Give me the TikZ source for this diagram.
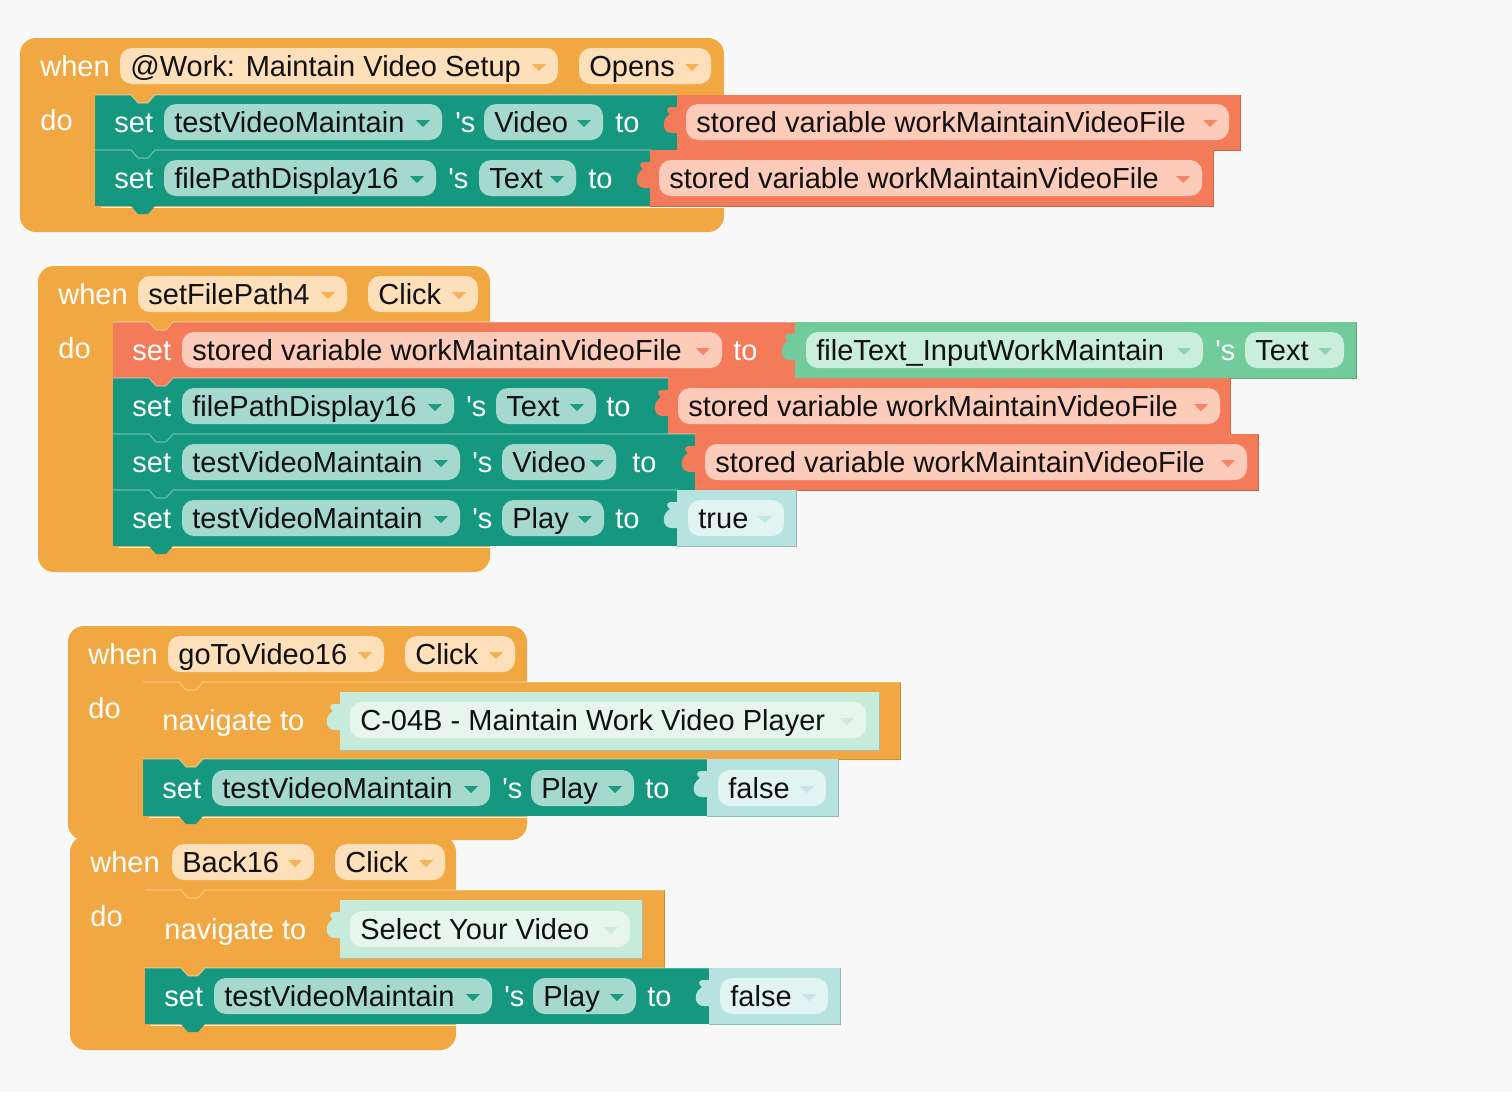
\documentclass[tikz,border=0pt]{standalone}
\usepackage{fontspec}
\setmainfont{Liberation Sans}
\usepackage{tikz}
\definecolor{fondo}{HTML}{F8F8F8}
\definecolor{naranja}{HTML}{F1A843}
\definecolor{naranjac}{HTML}{FDDFB9}
\definecolor{naranjaf}{HTML}{F5B257}
\definecolor{verdeazul}{HTML}{15987F}
\definecolor{verdeazulc}{HTML}{A6D9CD}
\definecolor{verdeazulf}{HTML}{1C9B82}
\definecolor{salmon}{HTML}{F37B5A}
\definecolor{salmonc}{HTML}{FCCBBA}
\definecolor{salmonf}{HTML}{F58565}
\definecolor{menta}{HTML}{71CB9B}
\definecolor{mentac}{HTML}{C9EED9}
\definecolor{mentaf}{HTML}{8DD5AE}
\definecolor{agua}{HTML}{B6E2DF}
\definecolor{aguac}{HTML}{E1F4F2}
\definecolor{aguaf}{HTML}{C2E7E4}
\definecolor{hoja}{HTML}{C6EBDA}
\definecolor{hojac}{HTML}{E6F6EE}
\definecolor{hojaf}{HTML}{CDEADC}
\definecolor{tinta}{HTML}{111111}
% evento: izq, arriba, der, abajo, izq pila, fondo pila
\newcommand{\evento}[6]{%
  \fill[naranja,rounded corners=8] (#1,#2) rectangle (#3,#4);
  \draw[white,line width=.8pt] ({#5+6},{#6+1.5}) -- (#3,{#6+1.5});}
% fila: izq, arriba, der, alto, color, color de arriba
\newcommand{\fila}[6]{%
  \fill[#5] (#1,#2) rectangle (#3,{#2+#4});
  \fill[#6] ({#1+36},#2) -- ({#1+43},{#2+8}) -- ({#1+53},{#2+8}) -- ({#1+60},#2) -- cycle;
  \draw[white,opacity=.35,line width=.6pt] (#1,#2) -- ({#1+36},#2) -- ({#1+43},{#2+8})
    -- ({#1+53},{#2+8}) -- ({#1+60},#2) -- (#3,#2);}
\newcommand{\cola}[3]{%
  \fill[#3] ({#1+36},#2) -- ({#1+43},{#2+8}) -- ({#1+53},{#2+8}) -- ({#1+60},#2) -- cycle;}
% valor: izq, arriba, der, alto, color
\newcommand{\valor}[5]{%
  \fill[#5] (#1,#2) rectangle (#3,{#2+#4});
  \fill[#5] ({#1+1},{#2+12}) -- ({#1-6},{#2+12})
    .. controls ({#1-11},{#2+12}) and ({#1-11},{#2+17}) .. ({#1-7},{#2+19})
    .. controls ({#1-12},{#2+22}) and ({#1-14},{#2+27}) .. ({#1-13},{#2+32})
    .. controls ({#1-12},{#2+36}) and ({#1-9},{#2+38}) .. ({#1-5},{#2+38})
    -- ({#1+1},{#2+38}) -- cycle;
  \draw[#5!82!black,line width=.5pt] (#1,{#2+#4}) -- (#3,{#2+#4}) -- (#3,#2);}
% campo: nombre, izq, der, centro y, color, flecha, texto
\newcommand{\campo}[7]{%
  \fill[#5,rounded corners=6] (#2,{#4-18}) rectangle (#3,{#4+18});
  \node[campotxt] (#1) at ({#2+10},{#4+10}) {#7};
  \fill[#6] ({#3-26},{#4-2}) -- ({#3-12},{#4-2}) -- ({#3-19},{#4+5}) -- cycle;}
\newcommand{\etiq}[4]{\node[etiqueta] (#1) at (#2,{#3+10}) {#4};}
\newcommand{\ese}{\textquotesingle s}

\begin{document}
\begin{tikzpicture}[x=0.5bp,y=-0.5bp,font=\fontsize{14.5bp}{17bp}\selectfont,
    etiqueta/.style={anchor=base west,inner sep=0pt,text=white},
    campotxt/.style={anchor=base west,inner sep=0pt,text=tinta}]
  \fill[fondo] (0,0) rectangle (1512,1092);
  \useasboundingbox (0,0) rectangle (1512,1092);
  % when @Work: Maintain Video Setup
  \evento{20}{38}{724}{232}{95}{206}
  \etiq{cu1}{40}{66}{when} \etiq{ha1}{40}{120}{do}
  \campo{ev1}{120}{558}{66}{naranjac}{naranjaf}{@Work: Maintain Video Setup}
  \campo{op1}{579}{711}{66}{naranjac}{naranjaf}{Opens}
  \fila{95}{95}{678}{55}{verdeazul}{naranja}
  \etiq{se11}{114}{122}{set} \etiq{de11}{455}{122}{\ese} \etiq{a11}{615}{122}{to}
  \campo{co11}{164}{442}{122}{verdeazulc}{verdeazulf}{testVideoMaintain}
  \campo{pr11}{484}{603}{122}{verdeazulc}{verdeazulf}{Video}
  \valor{677}{95}{1240}{55}{salmon}
  \campo{va11}{686}{1229}{122}{salmonc}{salmonf}{stored variable workMaintainVideoFile}
  \fila{95}{150}{651}{56}{verdeazul}{verdeazul}
  \etiq{se12}{114}{178}{set} \etiq{de12}{448}{178}{\ese} \etiq{a12}{588}{178}{to}
  \campo{co12}{164}{436}{178}{verdeazulc}{verdeazulf}{filePathDisplay16}
  \campo{pr12}{479}{576}{178}{verdeazulc}{verdeazulf}{Text}
  \valor{650}{150}{1213}{56}{salmon}
  \campo{va12}{659}{1202}{178}{salmonc}{salmonf}{stored variable workMaintainVideoFile}
  \cola{95}{206}{verdeazul}
  % when setFilePath4 Click
  \evento{38}{266}{490}{572}{113}{546}
  \etiq{cu2}{58}{294}{when} \etiq{ha2}{58}{348}{do}
  \campo{ev2}{138}{347}{294}{naranjac}{naranjaf}{setFilePath4}
  \campo{op2}{368}{478}{294}{naranjac}{naranjaf}{Click}
  \fila{113}{322}{796}{56}{salmon}{naranja}
  \etiq{se21}{132}{350}{set} \etiq{a21}{733}{350}{to}
  \campo{co21}{182}{722}{350}{salmonc}{salmonf}{stored variable workMaintainVideoFile}
  \valor{795}{322}{1356}{56}{menta}
  \campo{va21}{806}{1203}{350}{mentac}{mentaf}{fileText\_InputWorkMaintain}
  \etiq{de21}{1215}{350}{\ese}
  \campo{pr21}{1245}{1344}{350}{mentac}{mentaf}{Text}
  \fila{113}{378}{669}{56}{verdeazul}{salmon}
  \etiq{se22}{132}{406}{set} \etiq{de22}{466}{406}{\ese} \etiq{a22}{606}{406}{to}
  \campo{co22}{182}{454}{406}{verdeazulc}{verdeazulf}{filePathDisplay16}
  \campo{pr22}{496}{596}{406}{verdeazulc}{verdeazulf}{Text}
  \valor{668}{378}{1230}{56}{salmon}
  \campo{va22}{678}{1220}{406}{salmonc}{salmonf}{stored variable workMaintainVideoFile}
  \fila{113}{434}{696}{56}{verdeazul}{verdeazul}
  \etiq{se23}{132}{462}{set} \etiq{de23}{472}{462}{\ese} \etiq{a23}{632}{462}{to}
  \campo{co23}{182}{460}{462}{verdeazulc}{verdeazulf}{testVideoMaintain}
  \campo{pr23}{502}{616}{462}{verdeazulc}{verdeazulf}{Video}
  \valor{695}{434}{1258}{56}{salmon}
  \campo{va23}{705}{1247}{462}{salmonc}{salmonf}{stored variable workMaintainVideoFile}
  \fila{113}{490}{678}{56}{verdeazul}{verdeazul}
  \etiq{se24}{132}{518}{set} \etiq{de24}{472}{518}{\ese} \etiq{a24}{615}{518}{to}
  \campo{co24}{182}{460}{518}{verdeazulc}{verdeazulf}{testVideoMaintain}
  \campo{pr24}{502}{604}{518}{verdeazulc}{verdeazulf}{Play}
  \valor{677}{490}{796}{56}{agua}
  \campo{va24}{688}{784}{518}{aguac}{aguaf}{true}
  \cola{113}{546}{verdeazul}
  % when goToVideo16 Click
  \evento{68}{626}{527}{840}{143}{816}
  \etiq{cu3}{88}{654}{when} \etiq{ha3}{88}{708}{do}
  \campo{ev3}{168}{384}{654}{naranjac}{naranjaf}{goToVideo16}
  \campo{op3}{405}{515}{654}{naranjac}{naranjaf}{Click}
  \fila{143}{682}{900}{77}{naranja}{naranja}
  \draw[naranja!85!black,line width=.5pt] (143,759) -- (900,759) -- (900,682);
  \etiq{na31}{162}{720}{navigate to}
  \valor{340}{692}{879}{58}{hoja}
  \campo{va31}{350}{866}{720}{hojac}{hojaf}{C-04B - Maintain Work Video Player}
  \fila{143}{759}{708}{57}{verdeazul}{naranja}
  \etiq{se32}{162}{788}{set} \etiq{de32}{502}{788}{\ese} \etiq{a32}{645}{788}{to}
  \campo{co32}{212}{490}{788}{verdeazulc}{verdeazulf}{testVideoMaintain}
  \campo{pr32}{531}{634}{788}{verdeazulc}{verdeazulf}{Play}
  \valor{707}{759}{838}{57}{agua}
  \campo{va32}{718}{826}{788}{aguac}{aguaf}{false}
  \cola{143}{816}{verdeazul}
  % when Back16 Click
  \evento{70}{836}{456}{1050}{145}{1024}
  \etiq{cu4}{90}{862}{when} \etiq{ha4}{90}{916}{do}
  \campo{ev4}{172}{314}{862}{naranjac}{naranjaf}{Back16}
  \campo{op4}{335}{445}{862}{naranjac}{naranjaf}{Click}
  \fila{145}{890}{664}{78}{naranja}{naranja}
  \draw[naranja!85!black,line width=.5pt] (145,968) -- (664,968) -- (664,890);
  \etiq{na41}{164}{929}{navigate to}
  \valor{340}{900}{642}{58}{hoja}
  \campo{va41}{350}{630}{929}{hojac}{hojaf}{Select Your Video}
  \fila{145}{968}{710}{56}{verdeazul}{naranja}
  \etiq{se42}{164}{996}{set} \etiq{de42}{504}{996}{\ese} \etiq{a42}{647}{996}{to}
  \campo{co42}{214}{492}{996}{verdeazulc}{verdeazulf}{testVideoMaintain}
  \campo{pr42}{533}{636}{996}{verdeazulc}{verdeazulf}{Play}
  \valor{709}{968}{840}{56}{agua}
  \campo{va42}{720}{828}{996}{aguac}{aguaf}{false}
  \cola{145}{1024}{verdeazul}
\end{tikzpicture}
\end{document}
